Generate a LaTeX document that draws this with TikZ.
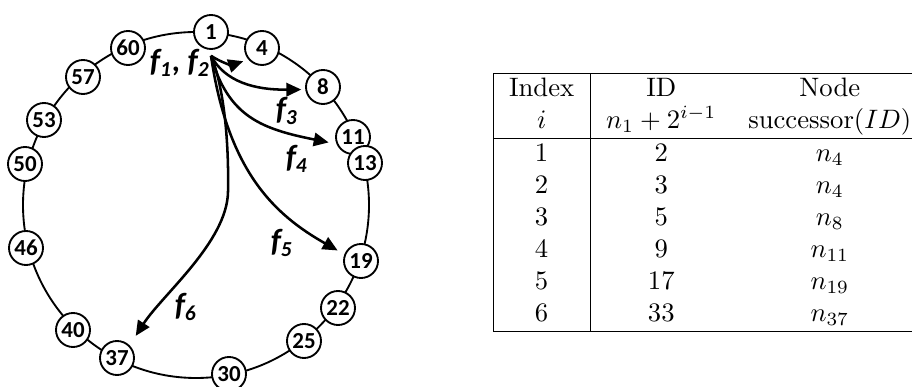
\documentclass[tikz,border=0pt]{standalone}
\usepackage{fontspec}
\usepackage{amsmath}
\usetikzlibrary{arrows.meta,positioning}
\newfontfamily\calibfont{Carlito}

\begin{document}
\begin{tikzpicture}[x=0.375pt,y=0.375pt,
  peer/.style={circle,draw,line width=0.7pt,fill=white,minimum size=12.75pt,inner sep=0pt,
    font=\calibfont\fontsize{8.6}{8.6}\selectfont\bfseries},
  finger/.style={line width=0.95pt,-{Triangle[length=5.6pt,width=5pt]},shorten >=2pt},
  flabel/.style={inner sep=0pt,font=\calibfont\fontsize{12}{12}\selectfont\bfseries\itshape}]
  \useasboundingbox (0,0) rectangle (912,387);
  % ring
  \draw[line width=0.7pt] (196,182) circle[radius=173];
  \node[peer] (n1) at (211,355) {1};
  \node[peer] (n4) at (262,339) {4};
  \node[peer] (n8) at (323,300) {8};
  \node[peer] (n11) at (353,250) {11};
  \node[peer] (n13) at (365,224) {13};
  \node[peer] (n19) at (361,126) {19};
  \node[peer] (n22) at (338,79) {22};
  \node[peer] (n25) at (304,46) {25};
  \node[peer] (n30) at (229,13) {30};
  \node[peer] (n37) at (117,29) {37};
  \node[peer] (n40) at (73,57) {40};
  \node[peer] (n46) at (26,139) {46};
  \node[peer] (n50) at (25,223) {50};
  \node[peer] (n53) at (44,267) {53};
  \node[peer] (n57) at (83,310) {57};
  \node[peer] (n60) at (128,339) {60};
  % fingers of node 1
  \coordinate[below=2.2pt of n1] (src);
  \draw[finger] (src) .. controls (222,324) and (232,322) .. (n4.220);
  \draw[finger,shorten >=1.5pt] (src) .. controls (225,305) and (255,297) .. (n8.188);
  \draw[finger,shorten >=3pt] (src) .. controls (228,270) and (262,258) .. (n11.203);
  \draw[finger,shorten >=2.9pt] (src) .. controls (228,215) and (275,172) .. (n19.158);
  \draw[finger,shorten >=4.2pt] (src) .. controls (224,300) and (229,245) .. (228,195)
    .. controls (227,145) and (162,92) .. (n37.45);
  \node[flabel] (l12) at (180,324) {f\textsubscript{1}, f\textsubscript{2}};
  \node[flabel] (l3) at (287,276) {f\textsubscript{3}};
  \node[flabel] (l4) at (297,228) {f\textsubscript{4}};
  \node[flabel] (l5) at (282,144) {f\textsubscript{5}};
  \node[flabel] (l6) at (186,80) {f\textsubscript{6}};
  % finger table
  \node[inner sep=0pt,anchor=north west] (ftab) at (492.5,314.5) {%
    \begin{tabular}{|c|c c|}
      \hline
      Index & ID & Node \\
      $i$ & $n_1+2^{i-1}$ & successor($ID$) \\
      \hline
      1 & 2 & $n_4$ \\
      2 & 3 & $n_4$ \\
      3 & 5 & $n_8$ \\
      4 & 9 & $n_{11}$ \\
      5 & 17 & $n_{19}$ \\
      6 & 33 & $n_{37}$ \\
      \hline
    \end{tabular}};
\end{tikzpicture}
\end{document}
